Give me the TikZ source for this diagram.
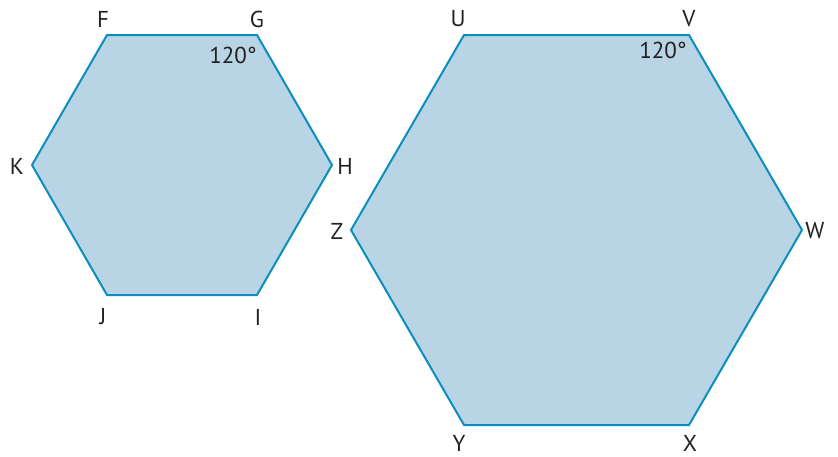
\documentclass[tikz,border=0pt]{standalone}
\usepackage{fontspec}
\setmainfont{PT Sans}
\definecolor{hexfill}{HTML}{B9D5E5}
\definecolor{hexline}{HTML}{0A8EBC}
\definecolor{txt}{HTML}{231F20}
\begin{document}
\begin{tikzpicture}[x=1pt,y=-1pt,
  hexagon/.style={draw=hexline,fill=hexfill,line width=2pt,line join=miter},
  lbl/.style={text=txt,font=\fontsize{23}{26}\selectfont,inner sep=0pt,anchor=center}]
\useasboundingbox (0,0) rectangle (838,456);
% small hexagon
\coordinate (F) at (107,35);
\coordinate (G) at (257,35);
\coordinate (H) at (332,165);
\coordinate (I) at (257,295);
\coordinate (J) at (107,295);
\coordinate (K) at (32,165);
\draw[hexagon] (F) -- (G) -- (H) -- (I) -- (J) -- (K) -- cycle;
% large hexagon
\coordinate (U) at (464,35);
\coordinate (V) at (689,35);
\coordinate (W) at (802,230);
\coordinate (X) at (689,425);
\coordinate (Y) at (464,425);
\coordinate (Z) at (351,230);
\draw[hexagon] (U) -- (V) -- (W) -- (X) -- (Y) -- (Z) -- cycle;
% labels
\node[lbl] (lF) at (103,19) {F};
\node[lbl] (lG) at (257,19) {G};
\node[lbl] (lH) at (345,166) {H};
\node[lbl] (lI) at (258,317) {I};
\node[lbl] (lJ) at (103,317) {J};
\node[lbl] (lK) at (17,166) {K};
\node[lbl] (lU) at (458,19) {U};
\node[lbl] (lV) at (689,19) {V};
\node[lbl] (lW) at (815,231) {W};
\node[lbl] (lX) at (690,443) {X};
\node[lbl] (lY) at (459,443) {Y};
\node[lbl] (lZ) at (337,231) {Z};
\node[lbl] (aG) at (233,55) {120°};
\node[lbl] (aV) at (663,50) {120°};
\end{tikzpicture}
\end{document}
